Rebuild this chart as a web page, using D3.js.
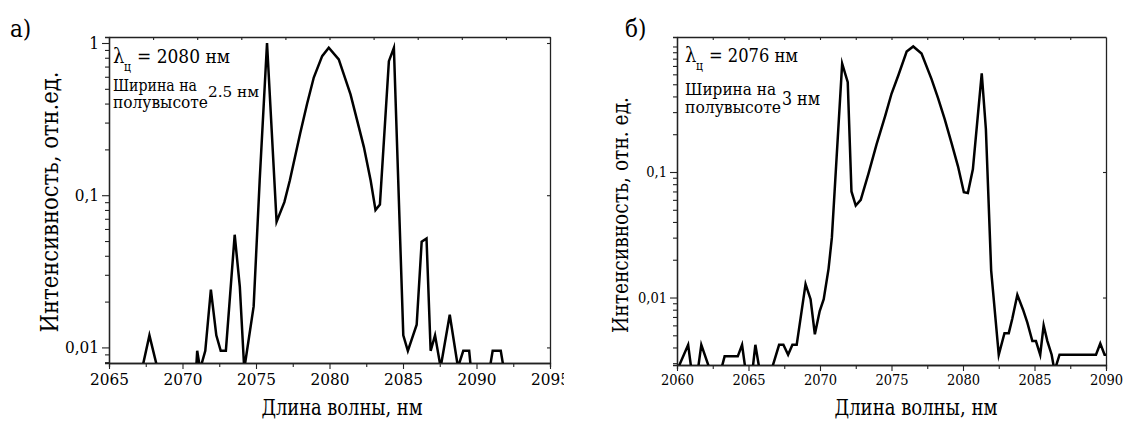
<!DOCTYPE html>
<html>
<head>
<meta charset="utf-8">
<script src="https://cdn.jsdelivr.net/npm/d3@7"></script>
<style>
  body { margin: 0; background: #fff; }
</style>
</head>
<body>
<div id="chart"></div>
<script>
// panel а) spectrum (nm, relative intensity)
var aWavelength = [2064.5, 2067.3, 2067.75, 2068.25, 2068.4, 2070.9, 2071.0, 2071.2, 2071.55, 2071.93,
  2072.3, 2072.6, 2072.95, 2073.55, 2073.9, 2074.2, 2074.84, 2075.25, 2075.75, 2076.4,
  2076.93, 2077.3, 2078.0, 2078.48, 2078.93, 2079.5, 2079.95, 2080.63, 2081.43, 2081.88,
  2082.34, 2082.8, 2083.13, 2083.43, 2084.04, 2084.38, 2085.02, 2085.33, 2085.93, 2086.27,
  2086.6, 2086.88, 2087.18, 2087.56, 2088.18, 2088.74, 2089.1, 2089.5, 2089.65, 2090.85,
  2091.1, 2091.65, 2091.9, 2095.5]
var aIntensity = [0.006, 0.0076, 0.012, 0.0076, 0.0065, 0.0065, 0.0095, 0.0072, 0.0095, 0.024,
  0.012, 0.0095, 0.0095, 0.055, 0.025, 0.0072, 0.0186, 0.125, 1.0, 0.067,
  0.09, 0.125, 0.253, 0.40, 0.593, 0.82, 0.93, 0.78, 0.46, 0.31,
  0.207, 0.125, 0.08, 0.087, 0.76, 0.93, 0.012, 0.0095, 0.0141, 0.0495,
  0.052, 0.0095, 0.012, 0.0074, 0.0164, 0.0074, 0.0095, 0.0095, 0.0068, 0.0068,
  0.0095, 0.0095, 0.0068, 0.006]

// panel б) spectrum
var bWavelength = [2059.5, 2060.05, 2060.78, 2061.0, 2061.47, 2061.7, 2062.28, 2063.1, 2063.33, 2064.25,
  2064.55, 2064.78, 2065.29, 2065.48, 2065.76, 2066.63, 2067.14, 2067.44, 2067.77, 2068.07,
  2068.37, 2068.99, 2069.34, 2069.64, 2069.98, 2070.26, 2070.6, 2070.83, 2071.07, 2071.55,
  2071.94, 2072.2, 2072.5, 2072.85, 2073.4, 2073.95, 2074.56, 2075.0, 2075.48, 2076.06,
  2076.52, 2077.1, 2077.8, 2078.25, 2078.72, 2079.2, 2079.65, 2080.06, 2080.34, 2080.69,
  2081.31, 2081.6, 2081.97, 2082.5, 2082.9, 2083.2, 2083.45, 2083.8, 2084.2, 2084.5,
  2084.85, 2085.1, 2085.4, 2085.64, 2085.9, 2086.2, 2086.4, 2086.75, 2089.3, 2089.6,
  2089.9, 2090.5]
var bIntensity = [0.0026, 0.0027, 0.0042, 0.0027, 0.0027, 0.0042, 0.0027, 0.0027, 0.0034, 0.0034,
  0.0042, 0.0027, 0.0027, 0.0042, 0.0027, 0.0027, 0.0042, 0.0042, 0.0035, 0.0042,
  0.0042, 0.0128, 0.0097, 0.0051, 0.0078, 0.0097, 0.017, 0.030, 0.087, 0.73,
  0.52, 0.07, 0.054, 0.06, 0.098, 0.165, 0.28, 0.42, 0.59, 0.91,
  1.0, 0.88, 0.55, 0.39, 0.264, 0.17, 0.111, 0.069, 0.068, 0.105,
  0.61, 0.22, 0.0164, 0.0035, 0.0052, 0.0052, 0.0068, 0.0105, 0.008, 0.0063,
  0.0045, 0.0045, 0.0035, 0.006, 0.0045, 0.0035, 0.0026, 0.0035, 0.0035, 0.0043,
  0.0035, 0.0035]

// ticks and labels
var aXTicks = [2065, 2070, 2075, 2080, 2085, 2090, 2095]
var aXMinor = [2067.5, 2072.5, 2077.5, 2082.5, 2087.5, 2092.5]
var aTopTicks = [2065, 2068, 2071, 2074, 2077, 2080, 2083, 2086, 2089, 2092, 2095]
var aYTicks = [0.01, 0.1, 1]
var aYLabels = ['0,01', '0,1', '1']
var bXTicks = [2060, 2065, 2070, 2075, 2080, 2085, 2090]
var bXMinor = [2062.5, 2067.5, 2072.5, 2077.5, 2082.5, 2087.5]
var bTopTicks = [2062.5, 2065, 2067.5, 2070, 2072.5, 2075, 2077.5, 2080, 2082.5, 2085, 2087.5]
var bYTicks = [0.01, 0.1]
var bYLabels = ['0,01', '0,1']

var serif = "'DejaVu Serif Condensed', 'DejaVu Serif', serif"

var svg = d3.select('#chart').append('svg')
  .attr('width', 1123)
  .attr('height', 421)
  .style('font-family', serif)

// text helper; fit squeezes the string to the width seen in the reference
function label(g, x, y, size, str, fit) {
  var t = g.append('text')
    .attr('x', x).attr('y', y)
    .style('font-family', serif)
    .style('font-stretch', 'condensed')
    .style('font-size', size + 'px')
    .style('fill', '#000')
    .text(str)
  if (fit) t.attr('textLength', fit).attr('lengthAdjust', 'spacingAndGlyphs')
  return t
}

function drawPanel(p) {
  var x = d3.scaleLinear().domain(p.xDomain).range([p.left, p.right])
  var y = d3.scaleLog().domain(p.yDomain).range([p.bottom, p.top])
  var g = svg.append('g')

  g.append('clipPath').attr('id', p.id + '-clip')
    .append('rect')
    .attr('x', p.left).attr('y', p.top)
    .attr('width', p.right - p.left).attr('height', p.bottom - p.top)

  var minorY = y.ticks().filter(function(v) { return p.yTicks.indexOf(v) < 0 })

  // bottom axis, major + minor
  g.append('g').attr('transform', 'translate(0,' + p.bottom + ')')
    .call(d3.axisBottom(x).tickValues(p.xMinor).tickSize(4).tickFormat(''))
  var xa = g.append('g').attr('transform', 'translate(0,' + p.bottom + ')')
    .call(d3.axisBottom(x).tickValues(p.xTicks).tickSize(6).tickSizeOuter(0).tickPadding(4).tickFormat(d3.format('d')))

  // left axis, major + minor
  g.append('g').attr('transform', 'translate(' + p.left + ',0)')
    .call(d3.axisLeft(y).tickValues(minorY).tickSize(4).tickFormat(''))
  var ya = g.append('g').attr('transform', 'translate(' + p.left + ',0)')
    .call(d3.axisLeft(y).tickValues(p.yTicks).tickSize(7).tickSizeOuter(0).tickPadding(3)
      .tickFormat(function(d, i) { return p.yLabels[i] }))

  xa.attr('font-family', null).attr('font-size', null)
  ya.attr('font-family', null).attr('font-size', null)
  g.selectAll('.tick text')
    .style('font-size', p.tickFont + 'px')
    .style('font-family', serif)
    .style('font-stretch', 'condensed')
    .style('fill', '#000')

  // top and right frame with short inner ticks
  g.append('g').attr('transform', 'translate(0,' + p.top + ')')
    .call(d3.axisTop(x).tickValues(p.topTicks).tickSize(-3).tickSizeOuter(0).tickFormat(''))
  g.append('g').attr('transform', 'translate(' + p.right + ',0)')
    .call(d3.axisRight(y).tickValues(p.yTicks).tickSize(-3).tickSizeOuter(0).tickFormat(''))

  g.selectAll('.domain').attr('stroke', '#222').attr('stroke-width', 1.3)
  g.selectAll('.tick line').attr('stroke', '#222').attr('stroke-width', 1.1)

  var line = d3.line()
    .x(function(d) { return x(d[0]) })
    .y(function(d) { return y(d[1]) })

  g.append('path')
    .datum(d3.zip(p.wavelength, p.intensity))
    .attr('clip-path', 'url(#' + p.id + '-clip)')
    .attr('fill', 'none')
    .attr('stroke', '#000')
    .attr('stroke-width', 2.5)
    .attr('stroke-linejoin', 'miter')
    .attr('stroke-miterlimit', 6)
    .attr('d', line)

  // axis titles
  label(g, 0, 0, p.yTitleFont, p.yTitle, p.yTitleFit)
    .attr('x', -p.yTitleFit / 2).attr('y', 0)
    .attr('transform', 'translate(' + p.yTitleX + ',' + p.yTitleY + ') rotate(-90)')
  label(g, p.xTitleX - p.xTitleFit / 2, 415, 22, 'Длина волны, нм', p.xTitleFit)

  // panel letter
  label(g, p.letterX, 37, 24, p.letter)

  // annotation
  var a = p.note
  label(g, a.x, a.y1, 20, 'λ')
  label(g, a.x + 11, a.y1 + 8, 12, 'ц')
  label(g, a.x + 24, a.y1, 19, a.center, a.centerFit)
  label(g, a.x, a.y2, a.font, 'Ширина на', a.fit1)
  label(g, a.x, a.y2 + a.gap, a.font, 'полувысоте', a.fit2)
  label(g, a.wx, a.wy, a.wfont, a.width, a.wfit)
}

drawPanel({
  id: 'a', left: 109, right: 550, top: 37, bottom: 363,
  xDomain: [2065, 2095], yDomain: [0.0079, 1.095],
  xTicks: aXTicks, xMinor: aXMinor, topTicks: aTopTicks,
  yTicks: aYTicks, yLabels: aYLabels, tickFont: 17,
  wavelength: aWavelength, intensity: aIntensity,
  yTitle: 'Интенсивность, отн.ед.', yTitleX: 58, yTitleY: 202, yTitleFont: 25, yTitleFit: 261,
  xTitleX: 342, xTitleFit: 161, letter: 'а)', letterX: 10,
  note: { x: 113, y1: 63, center: '= 2080 нм', centerFit: 93,
    y2: 91, gap: 17, font: 16, fit1: 84, fit2: 95,
    width: '2.5 нм', wx: 208, wy: 97, wfont: 15, wfit: 51 }
})

// the right picture is laid over the left one, so the last left tick label is cut
svg.append('rect').attr('x', 564).attr('y', 0).attr('width', 559).attr('height', 421).attr('fill', '#fff')

drawPanel({
  id: 'b', left: 677, right: 1106, top: 37, bottom: 365,
  xDomain: [2060, 2090], yDomain: [0.0029, 1.19],
  xTicks: bXTicks, xMinor: bXMinor, topTicks: bTopTicks,
  yTicks: bYTicks, yLabels: bYLabels, tickFont: 14.5,
  wavelength: bWavelength, intensity: bIntensity,
  yTitle: 'Интенсивность, отн. ед.', yTitleX: 628, yTitleY: 215, yTitleFont: 23, yTitleFit: 236,
  xTitleX: 916, xTitleFit: 163, letter: 'б)', letterX: 625,
  note: { x: 685, y1: 62, center: '= 2076 нм', centerFit: 89,
    y2: 95, gap: 18, font: 17.5, fit1: 91, fit2: 96,
    width: '3 нм', wx: 782, wy: 105, wfont: 19, wfit: 38 }
})
</script>
</body>
</html>
